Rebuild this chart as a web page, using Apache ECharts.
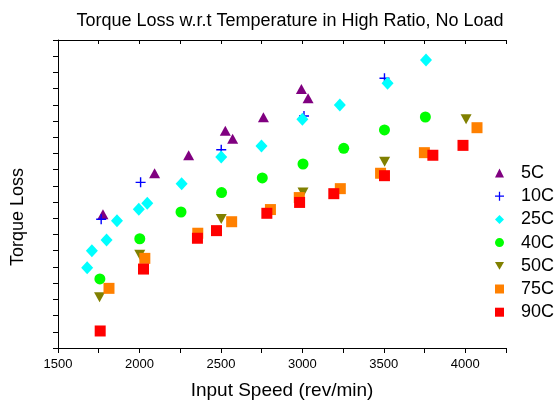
<!DOCTYPE html>
<html><head><meta charset="utf-8">
<script src="https://cdn.jsdelivr.net/npm/echarts@6/dist/echarts.min.js"></script>
<style>html,body{margin:0;padding:0;background:#fff}#c{width:558px;height:401px}</style>
</head><body><div id="c"></div>
<script>
const seriesNames = ['5C','10C','25C','40C','50C','75C','90C'];
const s5C  = [[1776,8.25],[2093,10.78],[2302,11.89],[2527,13.4],[2572,12.91],[2761,14.23],[2994,15.98],[3035,15.4]];
const s10C = [[1765,7.94],[2007,10.22],[2502,12.23],[3010,14.31],[3504,16.64]];
const s25C = [[1679,4.95],[1708,6.0],[1798,6.66],[1862,7.85],[1996,8.56],[2048,8.93],[2259,10.14],[2502,11.78],[2749,12.46],[3000,14.11],[3230,14.99],[3523,16.33],[3759,17.77]];
const s40C = [[1757,4.26],[2002,6.74],[2255,8.39],[2504,9.59],[2754,10.49],[3004,11.35],[3254,12.32],[3504,13.45],[3755,14.25]];
const s50C = [[1755,3.13],[2002,5.76],[2502,7.96],[3004,9.6],[3505,11.49],[4005,14.11]];
const s75C = [[1813,3.68],[2033,5.53],[2358,7.08],[2566,7.79],[2804,8.54],[2981,9.28],[3233,9.83],[3480,10.78],[3749,12.05],[4072,13.59]];
const s90C = [[1759,1.05],[2025,4.87],[2356,6.77],[2473,7.24],[2782,8.31],[2983,8.98],[3193,9.52],[3504,10.63],[3801,11.89],[3986,12.5]];
const seriesData = [s5C,s10C,s25C,s40C,s50C,s75C,s90C];
const colors = ['#800080','#0000ff','#00ffff','#00ff00','#808000','#ff8000','#ff0000'];
const xMin = 1500, xMax = 4250, xStep = 250;
const yMin = 0, yMax = 19, yStep = 1;
const titleText = 'Torque Loss w.r.t Temperature in High Ratio, No Load';
const xName = 'Input Speed (rev/min)';
const yName = 'Torque Loss';

const PLUS = 'path://M4.3,0H5.7V4.3H10V5.7H5.7V10H4.3V5.7H0V4.3H4.3Z';
const DOWN = 'path://M0,0L10,0L5,8.66Z';
const symbols = ['triangle', PLUS, 'diamond', 'circle', DOWN, 'rect', 'rect'];
const sizes = [[11,10],[10,10],[12,13],[11,11],[11,10],[11,11],[11,11]];
const legendIcons = ['triangle', PLUS, 'diamond', 'circle', DOWN, 'rect', 'rect'];

const FONT = 'Liberation Sans, Arial, sans-serif';
const chart = echarts.init(document.getElementById('c'), null, {renderer:'canvas'});
chart.setOption({
  animation:false,
  backgroundColor:'#fff',
  title:{text:titleText, left:285, top:7, textAlign:'center',
    textStyle:{fontFamily:FONT,fontSize:18,fontWeight:'normal',color:'#000'}},
  grid:{left:58,right:52,top:40,bottom:53,outerBoundsMode:'none',containLabel:false},
  legend:{orient:'vertical', left:490, top:159, itemWidth:9, itemHeight:9, itemGap:5.2,
    textStyle:{fontFamily:FONT,fontSize:18,color:'#000',padding:[0,0,0,12]},
    data: seriesNames.map((n,i)=>({name:n, icon:legendIcons[i]}))},
  graphic:[{type:'text', left:9, top:168, rotation:Math.PI/2,
    style:{text:yName, font:'18px '+FONT, fill:'#000'}}],
  xAxis:[{type:'value', min:xMin, max:xMax, interval:xStep, position:'bottom',
    name:xName, nameLocation:'middle', nameGap:33,
    nameTextStyle:{fontFamily:FONT,fontSize:19,color:'#000'},
    axisLine:{lineStyle:{color:'#000',width:1}},
    axisTick:{inside:false,length:5,lineStyle:{color:'#000'}},
    axisLabel:{fontFamily:FONT,fontSize:13,color:'#000',margin:10,
      formatter:v=> (v%500===0 ? String(v) : '')},
    splitLine:{show:false}},
   {type:'value', min:xMin, max:xMax, interval:xStep, position:'top',
    axisLine:{lineStyle:{color:'#000',width:1}},
    axisTick:{inside:true,length:4,lineStyle:{color:'#000'}},
    axisLabel:{show:false}, splitLine:{show:false}}],
  yAxis:{type:'value', min:yMin, max:yMax, interval:yStep,
    axisLine:{show:true,lineStyle:{color:'#000',width:1}},
    axisTick:{show:true,inside:false,length:5,lineStyle:{color:'#000'}},
    axisLabel:{show:false}, splitLine:{show:false}},
  series: seriesNames.map((n,i)=>({
    name:n, type:'scatter', xAxisIndex:0, data:seriesData[i],
    symbol:symbols[i], symbolSize:sizes[i],
    itemStyle:{color:colors[i], opacity:1}
  }))
});
</script></body></html>
